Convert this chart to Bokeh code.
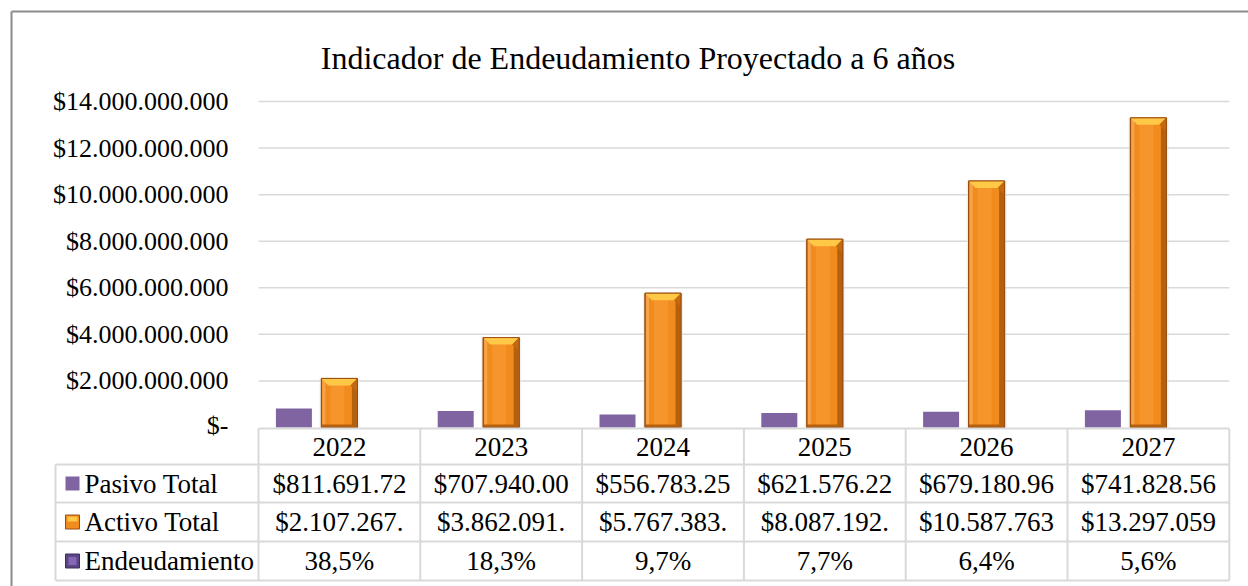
from bokeh.plotting import figure
from bokeh.models import Range1d
from bokeh.core.properties import value
from bokeh.embed import file_html
from bokeh.resources import INLINE

# ---------------- data ----------------
years = ["2022", "2023", "2024", "2025", "2026", "2027"]
pasivo_total = [811691720, 707940000, 556783250, 621576220, 679180960, 741828560]
activo_total = [2107267000, 3862091000, 5767383000, 8087192000, 10587763000, 13297059000]
endeudamiento = [0.385, 0.183, 0.097, 0.077, 0.064, 0.056]
series_names = ["Pasivo Total", "Activo Total", "Endeudamiento"]
y_ticks = [0, 2e9, 4e9, 6e9, 8e9, 10e9, 12e9, 14e9]
title_text = "Indicador de Endeudamiento Proyectado a 6 años"

FONT = value("Liberation Serif")

# ---------------- layout helpers (page pixels -> data) ----------------
W = 1248
H = 586
PX = 161.8          # px per category
X0 = 258.0          # page x of category start
Y0 = 427.0          # page y of value 0
PY = 326.0 / 14e9   # px per dollar


def dx(page_x):
    return (page_x - X0) / PX


def dy(page_y):
    return (Y0 - page_y) / PY


XPX = 1.0 / PX      # one pixel in x data units
YPX = 1.0 / PY      # one pixel in y data units

p = figure(width=W, height=H, x_range=Range1d(dx(0), dx(W)), y_range=Range1d(dy(H), dy(0)),
           output_backend="svg", toolbar_location=None, x_axis_type=None, y_axis_type=None,
           min_border=0, outline_line_color=None, background_fill_color="white",
           border_fill_color="white")
p.grid.visible = False

# chart border (left + top)
p.segment(x0=[dx(11)], y0=[dy(11)], x1=[dx(11)], y1=[dy(H + 5)], line_color="#8C8C8C", line_width=2)
p.segment(x0=[dx(11)], y0=[dy(11)], x1=[dx(W + 5)], y1=[dy(11)], line_color="#8C8C8C", line_width=2)

# gridlines
grid_ticks = [t for t in y_ticks if t > 0]
p.segment(x0=[0] * len(grid_ticks), y0=grid_ticks, x1=[6] * len(grid_ticks), y1=grid_ticks,
          line_color="#D9D9D9", line_width=1.5)


def fmt_money(v):
    return "$" + f"{v:,.0f}".replace(",", ".")


# y tick labels
tick_labels = ["$-" if t == 0 else fmt_money(t) for t in y_ticks]
p.text(x=[dx(228)] * len(y_ticks), y=[t + 2 * YPX if t == 0 else t for t in y_ticks], text=tick_labels,
       text_font=FONT, text_font_size="26px", text_align="right", text_baseline="middle",
       text_color="#000000")

# title
p.text(x=[dx(637.5)], y=[dy(57)], text=[title_text], text_font=FONT, text_font_size="32px",
       text_align="center", text_baseline="middle", text_color="#000000")

centers = [i + 0.5 for i in range(len(years))]
off = 45.5 * XPX
bw = 36 * XPX

# Pasivo Total bars (flat purple)
xp = [c - off for c in centers]
p.vbar(x=xp, top=pasivo_total, bottom=0, width=bw, fill_color="#8064A2", line_color=None)

# Activo Total bars (orange, bevelled look)
xa = centers
p.vbar(x=xa, top=activo_total, bottom=0, width=bw + 4 * XPX, fill_color="#E6E6E6", line_color=None,
       fill_alpha=0.6)  # soft shadow
p.vbar(x=xa, top=activo_total, bottom=0, width=bw, fill_color="#F28B1E", line_color="#9A4E0E",
       line_width=1)
p.vbar(x=[c - bw / 2 + 2.5 * XPX for c in xa], top=activo_total, bottom=0, width=3 * XPX,
       fill_color="#F7A448", line_color=None)
p.vbar(x=[c - 2 * XPX for c in xa], top=activo_total, bottom=0, width=14 * XPX,
       fill_color="#F89A30", line_color=None, fill_alpha=0.7)
p.vbar(x=[c + bw / 2 - 3 * XPX for c in xa], top=activo_total, bottom=0, width=5 * XPX,
       fill_color="#B5600F", line_color=None)
p.vbar(x=xa, top=[3 * YPX] * len(xa), bottom=0, width=bw, fill_color="#B5600F", line_color=None)
b = 7
top_xs, top_ys, r_xs, r_ys = [], [], [], []
for c, tp in zip(xa, activo_total):
    L, R = c - bw / 2, c + bw / 2
    top_xs.append([L, R, R - b * XPX, L + b * XPX])
    top_ys.append([tp, tp, tp - b * YPX, tp - b * YPX])
    r_xs.append([R, R, R - b * XPX])
    r_ys.append([tp, tp - 2 * b * YPX, tp - b * YPX])
p.patches(xs=top_xs, ys=top_ys, fill_color="#FFC847", line_color=None)
p.patches(xs=r_xs, ys=r_ys, fill_color="#C4690F", line_color=None)
p.vbar(x=xa, top=activo_total, bottom=0, width=bw, fill_color=None, line_color="#9A4E0E", line_width=1)

# Endeudamiento bars (ratio values, practically zero height on this axis)
xe = [c + off for c in centers]
p.vbar(x=xe, top=endeudamiento, bottom=0, width=bw, fill_color="#5F4B8B", line_color=None)

# ---------------- data table ----------------
row_lines = [dy(428), dy(464), dy(502), dy(541), dy(580)]
row_centers = [dy(446), dy(483), dy(521.5), dy(560.5)]
leg_left = dx(55)
line_col = "#D9D9D9"
p.segment(x0=[0], y0=[row_lines[0]], x1=[6], y1=[row_lines[0]], line_color=line_col, line_width=2)
p.segment(x0=[leg_left] * 4, y0=row_lines[1:], x1=[6] * 4, y1=row_lines[1:], line_color=line_col,
          line_width=2)
p.segment(x0=[leg_left], y0=[row_lines[1]], x1=[leg_left], y1=[row_lines[-1]], line_color=line_col,
          line_width=2)
vx = list(range(len(years) + 1))
p.segment(x0=vx, y0=[row_lines[0]] * len(vx), x1=vx, y1=[row_lines[-1]] * len(vx),
          line_color=line_col, line_width=2)

p.text(x=centers, y=[row_centers[0]] * len(years), text=years, text_font=FONT, text_font_size="27px",
       text_align="center", text_baseline="middle", text_color="#000000")

pas_txt = [fmt_money(v)[:11] for v in pasivo_total]
act_txt = [fmt_money(v)[:11] for v in activo_total]
end_txt = [f"{v * 100:.1f}%".replace(".", ",") for v in endeudamiento]
for txts, rc in zip([pas_txt, act_txt, end_txt], row_centers[1:]):
    p.text(x=centers, y=[rc] * len(txts), text=txts, text_font=FONT, text_font_size="27px",
           text_align="center", text_baseline="middle", text_color="#000000")

p.text(x=[dx(84)] * 3, y=row_centers[1:], text=series_names, text_font=FONT, text_font_size="27px",
       text_align="left", text_baseline="middle", text_color="#000000")

kx = dx(72)
p.rect(x=[kx], y=[row_centers[1]], width=14, height=14, width_units="screen", height_units="screen",
       fill_color="#8064A2", line_color=None)
p.rect(x=[kx], y=[row_centers[2]], width=14, height=14, width_units="screen", height_units="screen",
       fill_color="#F28B1E", line_color="#9A4E0E")
p.rect(x=[kx], y=[row_centers[2] + 3 * YPX], width=10, height=5, width_units="screen",
       height_units="screen", fill_color="#FFC845", line_color=None)
p.rect(x=[kx], y=[row_centers[3]], width=14, height=14, width_units="screen", height_units="screen",
       fill_color="#5A4585", line_color="#3C2C5C")
p.rect(x=[kx], y=[row_centers[3]], width=8, height=8, width_units="screen", height_units="screen",
       fill_color="#8467B4", line_color=None)

open("out.html", "w").write(file_html(p, INLINE))
